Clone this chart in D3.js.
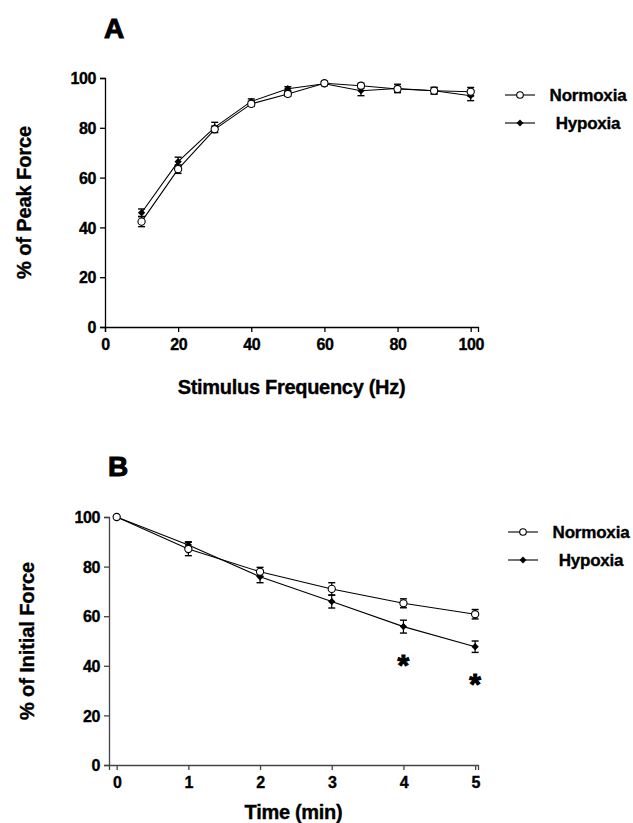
<!DOCTYPE html>
<html><head><meta charset="utf-8">
<script src="https://cdn.jsdelivr.net/npm/d3@7"></script>
<style>
html,body{margin:0;padding:0;background:#fff;}
svg{display:block;}
text{font-family:"Liberation Sans",Arial,sans-serif;font-weight:bold;fill:#000;stroke:#000;stroke-width:0.35px;}
</style></head>
<body>
<svg id="c" width="633" height="823"></svg>
<script>
// ---- Panel A data ----
const freqA = [10,20,30,40,50,60,70,80,90,100];
const normoxiaA = [42.3,63.4,79.4,89.6,93.6,97.9,96.9,95.6,94.9,94.5];
const normoxiaA_sem = [2.0,1.7,1.3,1.0,1.0,0.8,1.0,1.0,1.3,1.7];
const hypoxiaA = [45.9,66.4,80.2,90.6,95.7,97.7,94.9,95.8,94.9,92.9];
const hypoxiaA_sem = [1.5,1.8,2.0,1.0,0.8,0.8,2.0,1.7,1.3,2.0];
const ticksAx = [0,20,40,60,80,100];
const ticksAy = [0,20,40,60,80,100];

// ---- Panel B data ----
const timeB = [0,1,2,3,4,5];
const normoxiaB = [100,87.1,77.9,71.0,65.2,60.8];
const normoxiaB_sem = [0,2.7,1.8,2.5,1.8,1.9];
const hypoxiaB = [100,88.7,75.9,65.9,55.8,47.7];
const hypoxiaB_sem = [0,1.3,2.4,2.6,2.6,2.3];
const starsB = [{t:4, y:43}, {t:5, y:35.5}];
const ticksBx = [0,1,2,3,4,5];
const ticksBy = [0,20,40,60,80,100];
const seriesNames = ["Normoxia","Hypoxia"];

const svg = d3.select("#c");

function panel(cfg){
  const g = svg.append("g");
  const x = d3.scaleLinear().domain(cfg.xdom).range(cfg.xr);
  const y = d3.scaleLinear().domain([0,100]).range(cfg.yr);
  // axes
  const xa = g.append("g").attr("transform",`translate(0,${cfg.yr[0]})`)
    .call(d3.axisBottom(x).tickValues(cfg.xticks).tickFormat(d3.format("d")).tickSizeOuter(0).tickSize(5).tickPadding(4));
  const ya = g.append("g").attr("transform",`translate(${cfg.xr[0]},0)`)
    .call(d3.axisLeft(y).tickValues(cfg.yticks).tickFormat(d3.format("d")).tickSizeOuter(0).tickSize(5).tickPadding(4));
  [xa,ya].forEach(a=>{
    a.select(".domain").attr("stroke",cfg.axisColor).attr("stroke-width",1.3);
    a.selectAll(".tick line").attr("stroke",cfg.axisColor).attr("stroke-width",1.3);
    a.selectAll(".tick text").attr("font-size",16).attr("font-family","Liberation Sans, Arial, sans-serif")
      .attr("font-weight","bold").attr("fill","#000").attr("letter-spacing",-0.4);
  });
  xa.selectAll(".tick text").attr("dy","0.9em");
  ya.selectAll(".tick text").attr("dy","0.35em");

  const line = d3.line().x(d=>x(d[0])).y(d=>y(d[1]));
  const drawSeries = (xs, ys, sem, filled) => {
    const pts = xs.map((v,i)=>[v,ys[i],sem[i]]);
    g.append("path").datum(pts).attr("d",line).attr("fill","none").attr("stroke","#000").attr("stroke-width",1.1);
    const eb = g.append("g").selectAll("g").data(pts.filter(p=>p[2]>0)).join("g");
    eb.append("line").attr("x1",d=>x(d[0])).attr("x2",d=>x(d[0]))
      .attr("y1",d=>y(d[1]-d[2])).attr("y2",d=>y(d[1]+d[2])).attr("stroke","#000").attr("stroke-width",1.2);
    [1,-1].forEach(s=>{
      eb.append("line").attr("x1",d=>x(d[0])-3.5).attr("x2",d=>x(d[0])+3.5)
        .attr("y1",d=>y(d[1]+s*d[2])).attr("y2",d=>y(d[1]+s*d[2])).attr("stroke","#000").attr("stroke-width",1.4);
    });
    if(filled){
      g.append("g").selectAll("path").data(pts).join("path")
        .attr("d",d3.symbol(d3.symbolDiamond2,34)).attr("transform",d=>`translate(${x(d[0])},${y(d[1])})`)
        .attr("fill","#000");
    } else {
      g.append("g").selectAll("circle").data(pts).join("circle")
        .attr("cx",d=>x(d[0])).attr("cy",d=>y(d[1])).attr("r",3.6)
        .attr("fill","#fff").attr("stroke","#000").attr("stroke-width",1.1);
    }
  };
  drawSeries(cfg.xs, cfg.hyp, cfg.hypSem, true);
  drawSeries(cfg.xs, cfg.nor, cfg.norSem, false);

  // panel letter
  g.append("text").attr("x",cfg.xr[0]-1).attr("y",cfg.letterY).attr("font-size",28)
    .style("stroke-width","1px").text(cfg.letter);
  // axis titles
  g.append("text").attr("x",(cfg.xr[0]+cfg.xr[1])/2).attr("y",cfg.xtitleY).attr("text-anchor","middle")
    .attr("font-size",20).attr("letter-spacing",-0.3).text(cfg.xtitle);
  g.append("text").attr("transform",`translate(${cfg.ytitleX},${(cfg.yr[0]+cfg.yr[1])/2}) rotate(-90)`)
    .attr("text-anchor","middle").attr("font-size",20).attr("letter-spacing",-0.1).text(cfg.ytitle);

  // legend
  const lg = g.append("g");
  seriesNames.forEach((nm,i)=>{
    const ly = cfg.legY + i*28;
    lg.append("line").attr("x1",cfg.legX).attr("x2",cfg.legX+30).attr("y1",ly).attr("y2",ly).attr("stroke","#000").attr("stroke-width",1.1);
    if(i===0){
      lg.append("circle").attr("cx",cfg.legX+15).attr("cy",ly).attr("r",3.3).attr("fill","#fff").attr("stroke","#000").attr("stroke-width",1.1);
    } else {
      lg.append("path").attr("d",d3.symbol(d3.symbolDiamond2,30)).attr("transform",`translate(${cfg.legX+15},${ly})`).attr("fill","#000");
    }
    lg.append("text").attr("x",cfg.legX+83).attr("y",ly).attr("dy","0.36em").attr("text-anchor","middle")
      .attr("font-size",17).attr("letter-spacing",-0.2).text(nm);
  });
  return {g,x,y};
}

panel({
  xdom:[0,102], xr:[105,478], yr:[327,78], xticks:ticksAx, yticks:ticksAy, axisColor:"#000",
  xs:freqA, nor:normoxiaA, norSem:normoxiaA_sem, hyp:hypoxiaA, hypSem:hypoxiaA_sem,
  letter:"A", letterY:38, xtitle:"Stimulus Frequency (Hz)", xtitleY:394,
  ytitle:"% of Peak Force", ytitleX:31, legX:505, legY:95
});

const pB = panel({
  xdom:[-0.107,5.04], xr:[109,478], yr:[765,517], xticks:ticksBx, yticks:ticksBy, axisColor:"#444",
  xs:timeB, nor:normoxiaB, norSem:normoxiaB_sem, hyp:hypoxiaB, hypSem:hypoxiaB_sem,
  letter:"B", letterY:476, xtitle:"Time (min)", xtitleY:819,
  ytitle:"% of Initial Force", ytitleX:34, legX:508, legY:532
});

pB.g.append("g").selectAll("text").data(starsB).join("text")
  .attr("x",d=>pB.x(d.t)).attr("y",d=>pB.y(d.y)+17).attr("text-anchor","middle")
  .attr("font-size",30).style("stroke-width","1px").text("*");
</script>
</body></html>
